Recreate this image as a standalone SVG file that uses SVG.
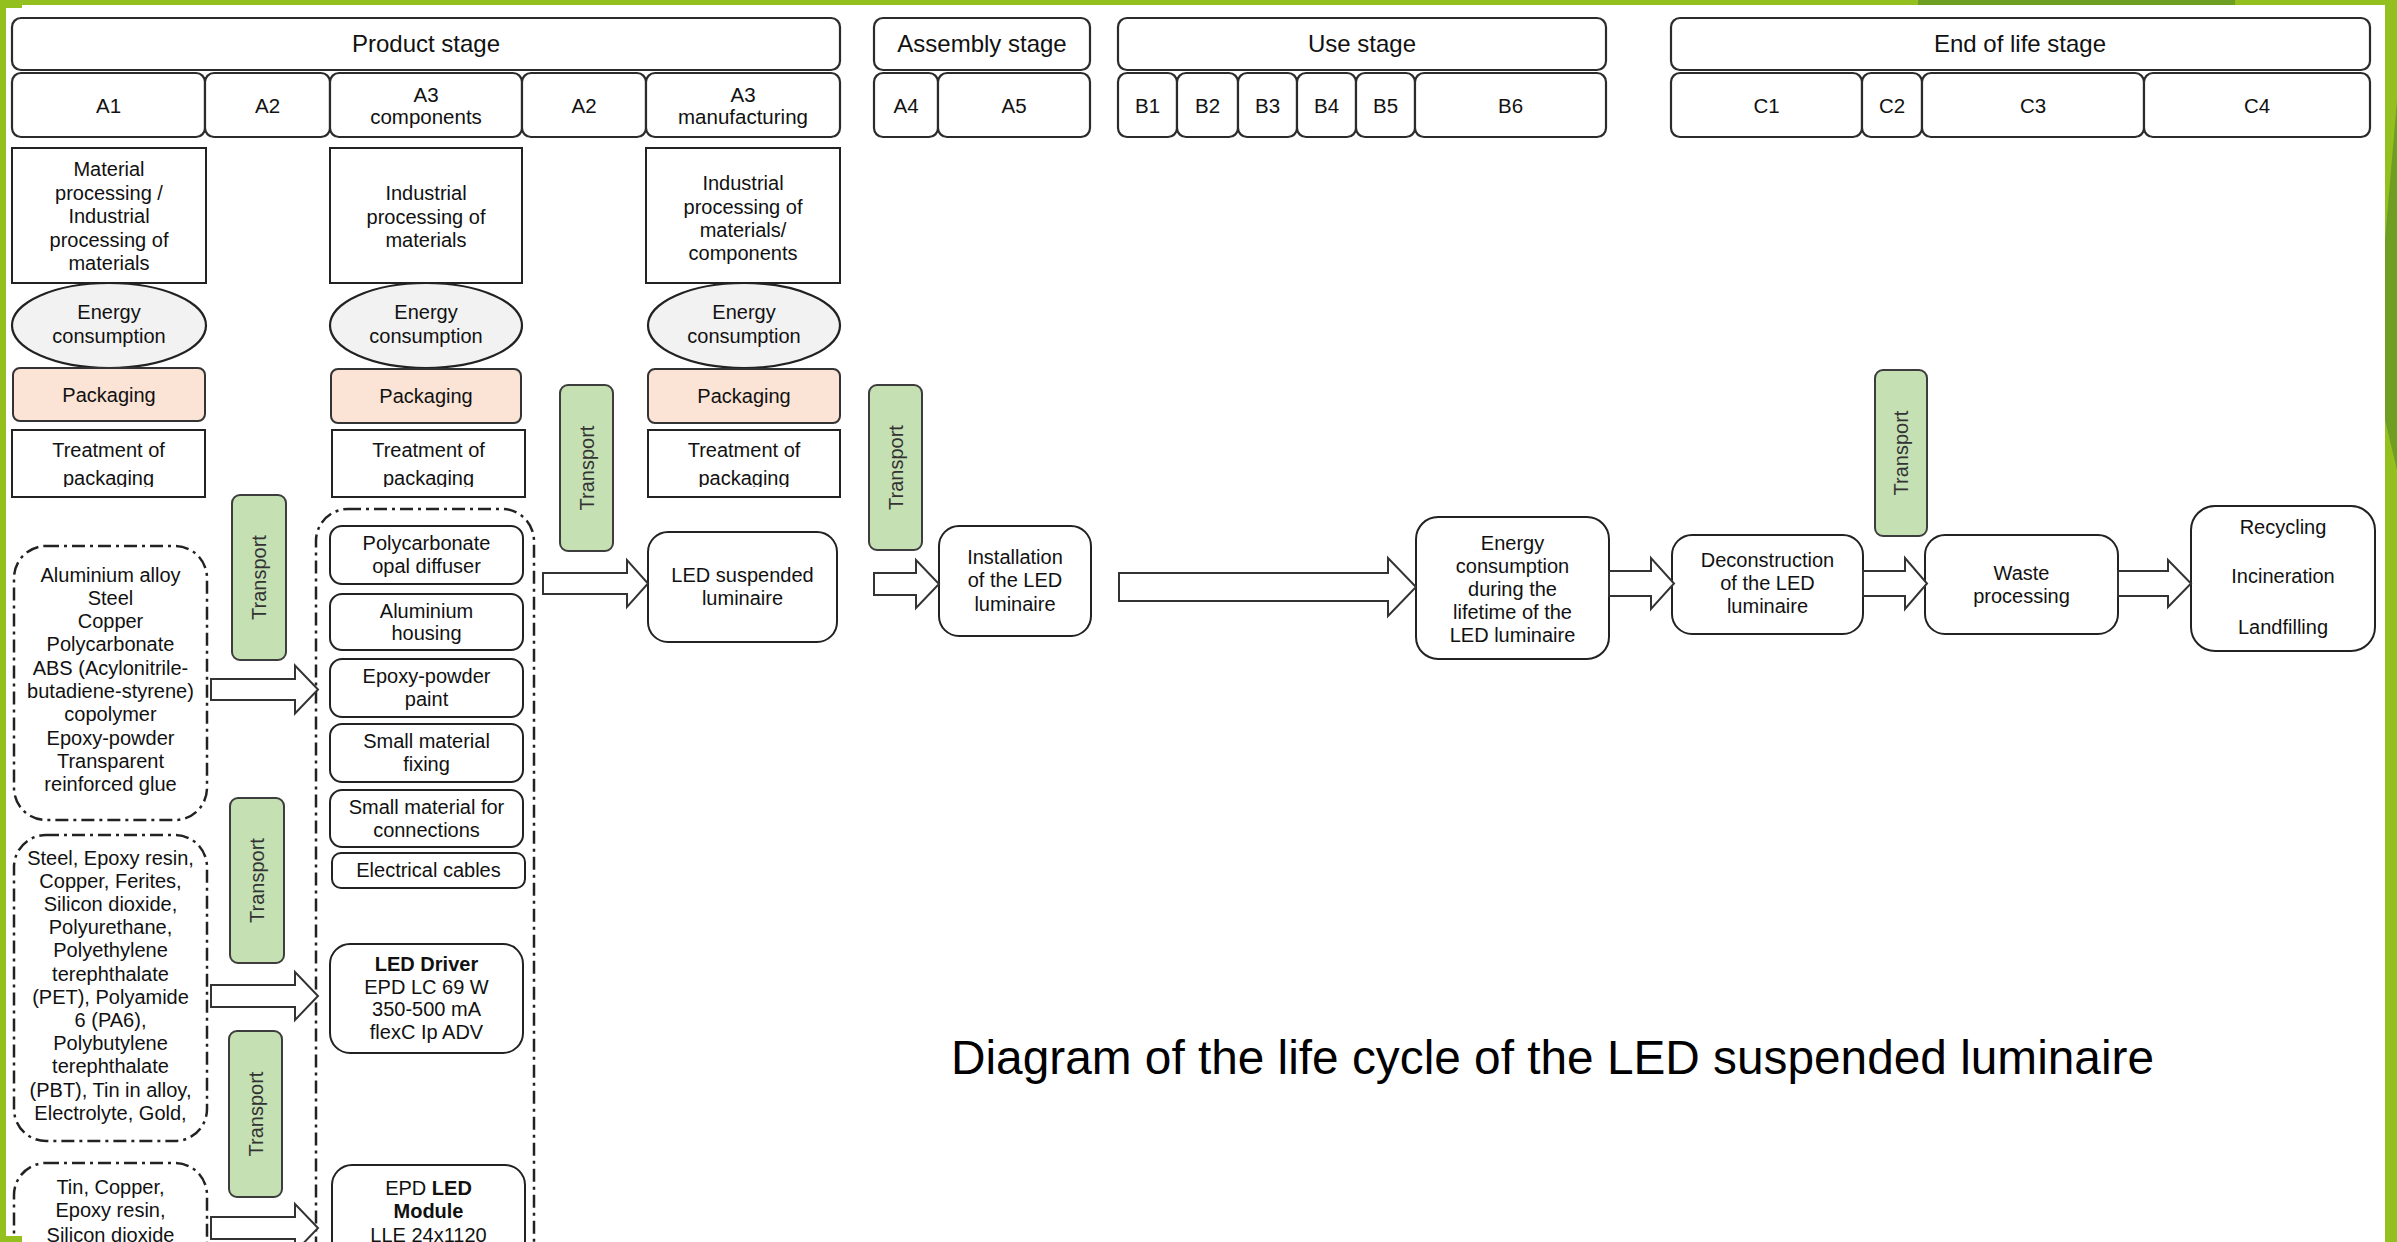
<svg xmlns="http://www.w3.org/2000/svg" width="2397" height="1242" viewBox="0 0 2397 1242">
<defs>
<style>
text{font-family:"Liberation Sans",Arial,sans-serif;fill:#111;text-anchor:middle}
.h1{font-size:24px}
.h2{font-size:20.5px}
.t{font-size:20px}
.b{font-weight:bold}
.hd{fill:#fff;stroke:#2b2b2b;stroke-width:2.2}
.bx{fill:#fff;stroke:#222;stroke-width:2}
.el{fill:#f2f2f2;stroke:#222;stroke-width:2.2}
.pk{fill:#fbe4d5;stroke:#333;stroke-width:2}
.tr{fill:#c5e0b3;stroke:#3d3d3d;stroke-width:2}
.trt{font-size:20px;fill:#333}
.dd{fill:none;stroke:#222;stroke-width:2.5;stroke-dasharray:13 5 3 5}
.ar{fill:#fff;stroke:#333;stroke-width:2}
.g1{fill:#93c01f}
.g2{fill:#6e9e22}
</style>
<clipPath id="ct"><rect x="0" y="0" width="2397" height="487"/></clipPath>
</defs>
<rect width="2397" height="1242" fill="#fff"/>

<g id="headers">
<g id="product-stage"><rect class="hd" x="12" y="18" width="828" height="52" rx="9"/><text class="h1" x="426" y="52">Product stage</text></g>
<g id="assembly-stage"><rect class="hd" x="874" y="18" width="216" height="52" rx="9"/><text class="h1" x="982" y="52">Assembly stage</text></g>
<g id="use-stage"><rect class="hd" x="1118" y="18" width="488" height="52" rx="9"/><text class="h1" x="1362" y="52">Use stage</text></g>
<g id="eol-stage"><rect class="hd" x="1671" y="18" width="699" height="52" rx="9"/><text class="h1" x="2020" y="52">End of life stage</text></g>

<g id="h-A1"><rect class="hd" x="12" y="73" width="193" height="64" rx="9"/><text class="h2" x="108.5" y="113">A1</text></g>
<g id="h-A2a"><rect class="hd" x="205" y="73" width="125" height="64" rx="9"/><text class="h2" x="267.5" y="113">A2</text></g>
<g id="h-A3c"><rect class="hd" x="330" y="73" width="192" height="64" rx="9"/><text class="h2" x="426" y="102">A3</text><text class="h2" x="426" y="124">components</text></g>
<g id="h-A2b"><rect class="hd" x="522" y="73" width="124" height="64" rx="9"/><text class="h2" x="584" y="113">A2</text></g>
<g id="h-A3m"><rect class="hd" x="646" y="73" width="194" height="64" rx="9"/><text class="h2" x="743" y="102">A3</text><text class="h2" x="743" y="124">manufacturing</text></g>
<g id="h-A4"><rect class="hd" x="874" y="73" width="64" height="64" rx="9"/><text class="h2" x="906" y="113">A4</text></g>
<g id="h-A5"><rect class="hd" x="938" y="73" width="152" height="64" rx="9"/><text class="h2" x="1014" y="113">A5</text></g>
<g id="h-B1"><rect class="hd" x="1118" y="73" width="59" height="64" rx="9"/><text class="h2" x="1147.5" y="113">B1</text></g>
<g id="h-B2"><rect class="hd" x="1177" y="73" width="61" height="64" rx="9"/><text class="h2" x="1207.5" y="113">B2</text></g>
<g id="h-B3"><rect class="hd" x="1238" y="73" width="59" height="64" rx="9"/><text class="h2" x="1267.5" y="113">B3</text></g>
<g id="h-B4"><rect class="hd" x="1297" y="73" width="59" height="64" rx="9"/><text class="h2" x="1326.5" y="113">B4</text></g>
<g id="h-B5"><rect class="hd" x="1356" y="73" width="59" height="64" rx="9"/><text class="h2" x="1385.5" y="113">B5</text></g>
<g id="h-B6"><rect class="hd" x="1415" y="73" width="191" height="64" rx="9"/><text class="h2" x="1510.5" y="113">B6</text></g>
<g id="h-C1"><rect class="hd" x="1671" y="73" width="191" height="64" rx="9"/><text class="h2" x="1766.5" y="113">C1</text></g>
<g id="h-C2"><rect class="hd" x="1862" y="73" width="60" height="64" rx="9"/><text class="h2" x="1892" y="113">C2</text></g>
<g id="h-C3"><rect class="hd" x="1922" y="73" width="222" height="64" rx="9"/><text class="h2" x="2033" y="113">C3</text></g>
<g id="h-C4"><rect class="hd" x="2144" y="73" width="226" height="64" rx="9"/><text class="h2" x="2257" y="113">C4</text></g>
</g>

<g id="col-A1">
<g id="a1-processing"><rect class="bx" x="12" y="148" width="194" height="135"/>
<text class="t" x="109" y="176">Material</text><text class="t" x="109" y="199.5">processing /</text><text class="t" x="109" y="223">Industrial</text><text class="t" x="109" y="246.5">processing of</text><text class="t" x="109" y="270">materials</text></g>
<g id="a1-energy"><ellipse class="el" cx="109" cy="325.5" rx="97" ry="42.5"/><text class="t" x="109" y="319">Energy</text><text class="t" x="109" y="343">consumption</text></g>
<g id="a1-packaging"><rect class="pk" x="13" y="368" width="192" height="53" rx="7"/><text class="t" x="109" y="402">Packaging</text></g>
<g id="a1-treatment"><rect class="bx" x="12" y="430" width="193" height="67"/><text class="t" x="108.5" y="457">Treatment of</text><text class="t" x="108.5" y="485" clip-path="url(#ct)">packaging</text></g>
</g>

<g id="col-A3c">
<g id="a3c-processing"><rect class="bx" x="330" y="148" width="192" height="135"/>
<text class="t" x="426" y="200">Industrial</text><text class="t" x="426" y="223.5">processing of</text><text class="t" x="426" y="247">materials</text></g>
<g id="a3c-energy"><ellipse class="el" cx="426" cy="325.5" rx="96" ry="42.5"/><text class="t" x="426" y="319">Energy</text><text class="t" x="426" y="343">consumption</text></g>
<g id="a3c-packaging"><rect class="pk" x="331" y="369" width="190" height="54" rx="7"/><text class="t" x="426" y="403">Packaging</text></g>
<g id="a3c-treatment"><rect class="bx" x="332" y="430" width="193" height="67"/><text class="t" x="428.5" y="457">Treatment of</text><text class="t" x="428.5" y="485" clip-path="url(#ct)">packaging</text></g>
</g>

<g id="col-A3m">
<g id="a3m-processing"><rect class="bx" x="646" y="148" width="194" height="135"/>
<text class="t" x="743" y="190">Industrial</text><text class="t" x="743" y="213.5">processing of</text><text class="t" x="743" y="237">materials/</text><text class="t" x="743" y="260">components</text></g>
<g id="a3m-energy"><ellipse class="el" cx="744" cy="325.5" rx="96" ry="42.5"/><text class="t" x="744" y="319">Energy</text><text class="t" x="744" y="343">consumption</text></g>
<g id="a3m-packaging"><rect class="pk" x="648" y="369" width="192" height="54" rx="7"/><text class="t" x="744" y="403">Packaging</text></g>
<g id="a3m-treatment"><rect class="bx" x="648" y="430" width="192" height="67"/><text class="t" x="744" y="457">Treatment of</text><text class="t" x="744" y="485" clip-path="url(#ct)">packaging</text></g>
</g>

<g id="transport-boxes">
<g id="transport-1"><rect class="tr" x="232" y="495" width="54" height="165" rx="8"/><text class="trt" transform="translate(259,577.5) rotate(-90)" x="0" y="7">Transport</text></g>
<g id="transport-2"><rect class="tr" x="230" y="798" width="54" height="165" rx="8"/><text class="trt" transform="translate(257,880.5) rotate(-90)" x="0" y="7">Transport</text></g>
<g id="transport-3"><rect class="tr" x="229" y="1031" width="53" height="166" rx="8"/><text class="trt" transform="translate(255.5,1114) rotate(-90)" x="0" y="7">Transport</text></g>
<g id="transport-4"><rect class="tr" x="560" y="385" width="53" height="166" rx="8"/><text class="trt" transform="translate(586.5,468) rotate(-90)" x="0" y="7">Transport</text></g>
<g id="transport-5"><rect class="tr" x="869" y="385" width="53" height="165" rx="8"/><text class="trt" transform="translate(895.5,467.5) rotate(-90)" x="0" y="7">Transport</text></g>
<g id="transport-6"><rect class="tr" x="1875" y="370" width="52" height="166" rx="8"/><text class="trt" transform="translate(1901,453) rotate(-90)" x="0" y="7">Transport</text></g>
</g>

<g id="material-list-1"><rect class="dd" x="14" y="546" width="193" height="274" rx="32"/>
<text class="t" x="110.5" y="581.5">Aluminium alloy</text><text class="t" x="110.5" y="604.8">Steel</text><text class="t" x="110.5" y="628.1">Copper</text><text class="t" x="110.5" y="651.4">Polycarbonate</text><text class="t" x="110.5" y="674.7">ABS (Acylonitrile-</text><text class="t" x="110.5" y="698">butadiene-styrene)</text><text class="t" x="110.5" y="721.3">copolymer</text><text class="t" x="110.5" y="744.6">Epoxy-powder</text><text class="t" x="110.5" y="767.9">Transparent</text><text class="t" x="110.5" y="791.2">reinforced glue</text></g>

<g id="material-list-2"><rect class="dd" x="14" y="835" width="193" height="306" rx="32"/>
<text class="t" x="110.5" y="864.5">Steel, Epoxy resin,</text><text class="t" x="110.5" y="887.7">Copper, Ferites,</text><text class="t" x="110.5" y="910.9">Silicon dioxide,</text><text class="t" x="110.5" y="934.1">Polyurethane,</text><text class="t" x="110.5" y="957.3">Polyethylene</text><text class="t" x="110.5" y="980.5">terephthalate</text><text class="t" x="110.5" y="1003.7">(PET), Polyamide</text><text class="t" x="110.5" y="1026.9">6 (PA6),</text><text class="t" x="110.5" y="1050.1">Polybutylene</text><text class="t" x="110.5" y="1073.3">terephthalate</text><text class="t" x="110.5" y="1096.5">(PBT), Tin in alloy,</text><text class="t" x="110.5" y="1119.7">Electrolyte, Gold,</text></g>

<g id="material-list-3"><rect class="dd" x="14" y="1163" width="193" height="200" rx="32"/>
<text class="t" x="110.5" y="1193.5">Tin, Copper,</text><text class="t" x="110.5" y="1217">Epoxy resin,</text><text class="t" x="110.5" y="1241.5">Silicon dioxide</text></g>

<g id="components-container"><rect class="dd" x="316" y="509" width="218" height="800" rx="32"/>
<g id="c-diffuser"><rect class="bx" x="330" y="526" width="193" height="58" rx="12"/><text class="t" x="426.5" y="549.5">Polycarbonate</text><text class="t" x="426.5" y="573">opal diffuser</text></g>
<g id="c-housing"><rect class="bx" x="330" y="594" width="193" height="56" rx="12"/><text class="t" x="426.5" y="617.5">Aluminium</text><text class="t" x="426.5" y="640">housing</text></g>
<g id="c-paint"><rect class="bx" x="330" y="659" width="193" height="58" rx="12"/><text class="t" x="426.5" y="683">Epoxy-powder</text><text class="t" x="426.5" y="706">paint</text></g>
<g id="c-fixing"><rect class="bx" x="330" y="724" width="193" height="58" rx="12"/><text class="t" x="426.5" y="748">Small material</text><text class="t" x="426.5" y="771">fixing</text></g>
<g id="c-connections"><rect class="bx" x="330" y="790" width="193" height="57" rx="12"/><text class="t" x="426.5" y="813.5">Small material for</text><text class="t" x="426.5" y="836.5">connections</text></g>
<g id="c-cables"><rect class="bx" x="332" y="853" width="193" height="35" rx="9"/><text class="t" x="428.5" y="877">Electrical cables</text></g>
<g id="c-driver"><rect class="bx" x="330" y="944" width="193" height="109" rx="20"/><text class="t b" x="426.5" y="971">LED Driver</text><text class="t" x="426.5" y="994">EPD LC 69 W</text><text class="t" x="426.5" y="1016">350-500 mA</text><text class="t" x="426.5" y="1038.5">flexC Ip ADV</text></g>
<g id="c-module"><rect class="bx" x="332" y="1165" width="193" height="120" rx="20"/><text class="t" x="428.5" y="1194.5">EPD <tspan class="b">LED</tspan></text><text class="t b" x="428.5" y="1218">Module</text><text class="t" x="428.5" y="1242">LLE 24x1120</text></g>
</g>

<g id="led-luminaire"><rect class="bx" x="648" y="532" width="189" height="110" rx="20"/><text class="t" x="742.5" y="582">LED suspended</text><text class="t" x="742.5" y="605">luminaire</text></g>
<g id="installation"><rect class="bx" x="939" y="526" width="152" height="110" rx="20"/><text class="t" x="1015" y="563.5">Installation</text><text class="t" x="1015" y="587">of the LED</text><text class="t" x="1015" y="610.5">luminaire</text></g>
<g id="energy-use"><rect class="bx" x="1416" y="517" width="193" height="142" rx="22"/><text class="t" x="1512.5" y="549.5">Energy</text><text class="t" x="1512.5" y="572.5">consumption</text><text class="t" x="1512.5" y="595.5">during the</text><text class="t" x="1512.5" y="618.5">lifetime of the</text><text class="t" x="1512.5" y="641.5">LED luminaire</text></g>
<g id="deconstruction"><rect class="bx" x="1672" y="535" width="191" height="99" rx="20"/><text class="t" x="1767.5" y="566.5">Deconstruction</text><text class="t" x="1767.5" y="589.5">of the LED</text><text class="t" x="1767.5" y="612.5">luminaire</text></g>
<g id="waste-processing"><rect class="bx" x="1925" y="535" width="193" height="99" rx="20"/><text class="t" x="2021.5" y="579.5">Waste</text><text class="t" x="2021.5" y="602.5">processing</text></g>
<g id="end-of-life"><rect class="bx" x="2191" y="506" width="184" height="145" rx="24"/><text class="t" x="2283" y="533.5">Recycling</text><text class="t" x="2283" y="582.5">Incineration</text><text class="t" x="2283" y="633.5">Landfilling</text></g>

<g id="connectors">
<polygon class="ar" points="211,679 295,679 295,665.5 318,689.5 295,713.5 295,700 211,700"/>
<polygon class="ar" points="211,985 295,985 295,972 318,996 295,1020 295,1007 211,1007"/>
<polygon class="ar" points="211,1217 295,1217 295,1204 318,1228 295,1252 295,1239 211,1239"/>
<polygon class="ar" points="543,573 627,573 627,560 648,583.5 627,607 627,594 543,594"/>
<polygon class="ar" points="874,573 916,573 916,560 939,584 916,608 916,595 874,595"/>
<polygon class="ar" points="1119,573 1388,573 1388,558 1416,587 1388,616 1388,601 1119,601"/>
<polygon class="ar" points="1609,571 1651,571 1651,558 1674,583.5 1651,609 1651,596 1609,596"/>
<polygon class="ar" points="1863,571 1905,571 1905,558 1927,583.5 1905,609 1905,596 1863,596"/>
<polygon class="ar" points="2118,571 2168,571 2168,560 2191,583.5 2168,607 2168,596 2118,596"/>
</g>

<text id="caption" x="951" y="1074" style="font-size:48px;text-anchor:start;fill:#000" textLength="1203" lengthAdjust="spacingAndGlyphs">Diagram of the life cycle of the LED suspended luminaire</text>

<g id="frame">
<rect class="g1" x="0" y="0" width="2397" height="5"/>
<rect class="g2" x="1918" y="0" width="317" height="5"/>
<rect class="g1" x="0" y="0" width="6" height="1242"/>
<rect class="g1" x="0" y="0" width="22" height="8"/>
<rect class="g1" x="0" y="1236" width="22" height="6"/>
<rect class="g1" x="2385" y="0" width="12" height="1242"/>
<polygon class="g2" points="2397,100 2385,240 2385,420 2397,470"/>
</g>
</svg>
